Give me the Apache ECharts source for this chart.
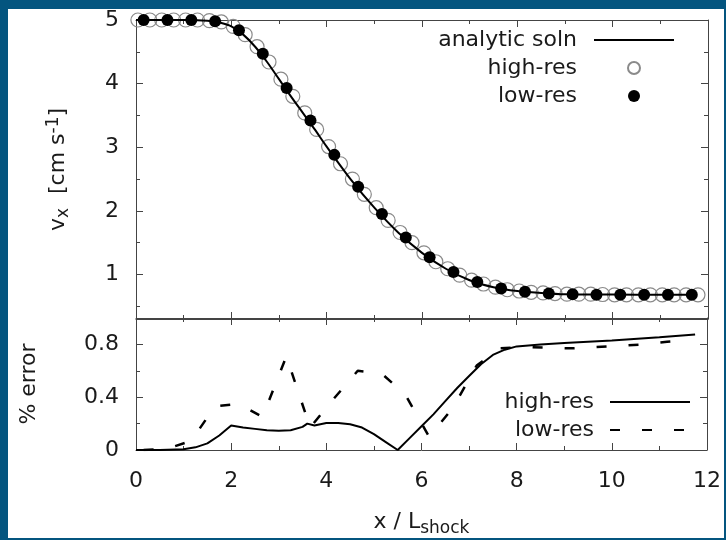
<!DOCTYPE html>
<html>
<head>
<meta charset="utf-8">
<script src="https://cdn.jsdelivr.net/npm/echarts@6/dist/echarts.min.js"></script>
<style>
html,body{margin:0;padding:0;width:726px;height:540px;background:#04557f;overflow:hidden;}
#chart{position:absolute;left:8px;top:9px;width:716px;height:529px;background:#ffffff;overflow:hidden;}
</style>
</head>
<body>
<div id="chart"></div>
<script>
// ---- data ----
var analyticX = [0, 0.5, 1.0, 1.5, 1.75, 2.0, 2.25, 2.5, 2.75, 3.0, 3.25, 3.5, 3.75, 4.0, 4.5, 5.0, 5.5, 6.0, 6.5, 7.0, 7.5, 8.0, 8.5, 9.0, 10.0, 11.0, 11.75];
var analyticY = [5.0, 5.0, 5.0, 4.99, 4.96, 4.90, 4.77, 4.58, 4.34, 4.07, 3.80, 3.54, 3.28, 3.01, 2.50, 2.05, 1.66, 1.34, 1.09, 0.91, 0.80, 0.74, 0.71, 0.69, 0.685, 0.68, 0.68];

var highResX = [0.04,0.29,0.54,0.79,1.04,1.29,1.54,1.79,2.04,2.29,2.54,2.79,3.04,3.29,3.54,3.79,4.04,4.29,4.54,4.79,5.04,5.29,5.54,5.79,6.04,6.29,6.54,6.79,7.04,7.29,7.54,7.79,8.04,8.29,8.54,8.79,9.04,9.29,9.54,9.79,10.04,10.29,10.54,10.79,11.04,11.29,11.54,11.79];
var highResY = [5.0,5.0,5.0,5.0,5.0,5.0,4.99,4.97,4.90,4.77,4.58,4.34,4.07,3.80,3.54,3.28,3.01,2.74,2.50,2.26,2.05,1.85,1.66,1.50,1.34,1.20,1.09,0.99,0.91,0.85,0.80,0.76,0.74,0.72,0.71,0.70,0.69,0.69,0.69,0.685,0.68,0.68,0.68,0.68,0.68,0.68,0.68,0.68];

var lowResX = [0.16,0.66,1.16,1.66,2.16,2.66,3.16,3.66,4.16,4.66,5.16,5.66,6.16,6.66,7.16,7.66,8.16,8.66,9.16,9.66,10.16,10.66,11.16,11.66];
var lowResY = [5.0,5.0,5.0,4.98,4.84,4.47,3.93,3.42,2.88,2.38,1.95,1.58,1.27,1.04,0.88,0.78,0.73,0.70,0.69,0.68,0.68,0.68,0.68,0.68];

var errHighX = [0,0.5,1.0,1.25,1.5,1.75,2.0,2.25,2.5,2.75,3.0,3.25,3.5,3.6,3.75,4.0,4.25,4.5,4.75,5.0,5.25,5.5,5.75,6.0,6.25,6.5,6.75,7.0,7.25,7.5,7.75,8.0,8.5,9.0,10.0,11.0,11.75];
var errHighY = [0,0,0.005,0.02,0.05,0.11,0.185,0.17,0.16,0.15,0.145,0.15,0.175,0.2,0.185,0.205,0.205,0.195,0.17,0.12,0.06,0.0,0.09,0.18,0.27,0.37,0.47,0.56,0.65,0.72,0.76,0.785,0.80,0.81,0.83,0.855,0.875];

var errLowX = lowResX;
var errLowY = [0.0,0.01,0.07,0.33,0.35,0.25,0.71,0.17,0.39,0.60,0.58,0.42,0.10,0.32,0.64,0.77,0.78,0.775,0.77,0.78,0.79,0.80,0.82,0.835];

var xTicks = [0,2,4,6,8,10,12];
var vTicksMajor = [1,2,3,4,5];
var vTicksMinor = [0.5,1.5,2.5,3.5,4.5];
var eTicksMajor = [0,0.4,0.8];
var eTicksMinor = [0.2,0.6,1.0];

function pairs(xs, ys){ return xs.map(function(x,i){return [x, ys[i]];}); }

var FONT = 'DejaVu Sans';
var FS = 22;
var TXT = '#1a1a1a';
var AX = '#444';

var chart = echarts.init(document.getElementById('chart'), null, {renderer:'canvas'});

function xAx(grid, pos, labels, name){
  var o = {
    type:'value', gridIndex:grid, position:pos, min:0, max:12, interval:2,
    axisLine:{show:true, onZero:false, lineStyle:{color:AX, width:1}},
    axisTick:{show:true, inside:true, length:7, lineStyle:{color:AX}},
    minorTick:{show:true, splitNumber:2, length:4, lineStyle:{color:AX}},
    splitLine:{show:false}, minorSplitLine:{show:false},
    axisLabel:{show:labels, margin:20, fontSize:FS, fontFamily:FONT, color:TXT}
  };
  if (name) {
    o.name = name; o.nameLocation='middle'; o.nameGap=58;
    o.nameTextStyle = {fontSize:FS, fontFamily:FONT, color:TXT,
      rich:{sub:{fontSize:17, fontFamily:FONT, color:TXT, padding:[12,0,0,0]}}};
  }
  return o;
}
function yAx(grid, pos, min, max, ticks, len, labels, line, fmt){
  return {
    type:'value', gridIndex:grid, position:pos, min:min, max:max,
    axisLine:{show:line, onZero:false, lineStyle:{color:AX, width:1}},
    axisTick:{show:true, inside:true, length:len, customValues:ticks, lineStyle:{color:AX}},
    splitLine:{show:false},
    axisLabel:{show:labels, customValues:ticks, margin:17, fontSize:FS, fontFamily:FONT, color:TXT, formatter:fmt}
  };
}

var yUpperMain = yAx(0,'left',0.3,5,vTicksMajor,7,true,true,function(v){return String(v);});
yUpperMain.name = 'v{sub|x}  [cm s{sup|-1}]';
yUpperMain.nameLocation = 'middle';
yUpperMain.nameGap = 64;
yUpperMain.nameTextStyle = {fontSize:FS, fontFamily:FONT, color:TXT,
  rich:{sub:{fontSize:17, fontFamily:FONT, color:TXT, padding:[10,0,0,0]},
        sup:{fontSize:17, fontFamily:FONT, color:TXT, padding:[0,0,10,0]}}};

var yLowerMain = yAx(1,'left',0,1,eTicksMajor,7,true,true,function(v){return String(v);});
yLowerMain.name = '% error';
yLowerMain.nameLocation = 'middle';
yLowerMain.nameGap = 96;
yLowerMain.nameTextStyle = {fontSize:FS, fontFamily:FONT, color:TXT};

var option = {
  animation:false,
  backgroundColor:'#ffffff',
  textStyle:{fontFamily:FONT},
  grid:[
    {left:128, top:10, width:572, height:300},
    {left:128, top:309, width:572, height:137}
  ],
  xAxis:[
    xAx(0,'bottom',false),
    xAx(0,'top',false),
    xAx(1,'bottom',true,'x / L{sub|shock}'),
    xAx(1,'top',false)
  ],
  yAxis:[
    yUpperMain,
    yAx(0,'left',0.3,5,vTicksMinor,4,false,false),
    yAx(0,'right',0.3,5,vTicksMajor,7,false,true),
    yAx(0,'right',0.3,5,vTicksMinor,4,false,false),
    yLowerMain,
    yAx(1,'left',0,1,eTicksMinor,4,false,false),
    yAx(1,'right',0,1,eTicksMajor,7,false,true),
    yAx(1,'right',0,1,eTicksMinor,4,false,false)
  ],
  legend:[
    {
      data:[{name:'analytic soln', itemStyle:{opacity:0}},'high-res','low-res'],
      orient:'vertical', align:'right', right:44, top:15,
      itemWidth:80, itemHeight:12, itemGap:6,
      textStyle:{fontSize:FS, fontFamily:FONT, color:TXT, padding:[0,12,0,0]},
      selectedMode:false
    },
    {
      data:[{name:'high-res ', itemStyle:{opacity:0}},{name:'low-res ', itemStyle:{opacity:0}}],
      orient:'vertical', align:'right', right:28, top:377,
      itemWidth:80, itemHeight:12, itemGap:6,
      formatter:function(n){return n.trim();},
      textStyle:{fontSize:FS, fontFamily:FONT, color:TXT, padding:[0,11,0,0]},
      selectedMode:false
    }
  ],
  series:[
    {
      name:'high-res', type:'scatter', xAxisIndex:0, yAxisIndex:0,
      data:pairs(highResX, highResY), symbol:'circle', symbolSize:14,
      itemStyle:{color:'rgba(255,255,255,0)', borderColor:'#8a8a8a', borderWidth:1.2, opacity:1},
      z:2
    },
    {
      name:'analytic soln', type:'line', xAxisIndex:0, yAxisIndex:0,
      data:pairs(analyticX, analyticY), smooth:0.3, symbol:'none',
      lineStyle:{color:'#000', width:2}, itemStyle:{color:'#000'}, z:3
    },
    {
      name:'low-res', type:'scatter', xAxisIndex:0, yAxisIndex:0,
      data:pairs(lowResX, lowResY), symbol:'circle', symbolSize:12,
      itemStyle:{color:'#000', opacity:1}, z:4
    },
    {
      name:'high-res ', type:'line', xAxisIndex:2, yAxisIndex:4,
      data:pairs(errHighX, errHighY), symbol:'none', smooth:false,
      lineStyle:{color:'#000', width:2}, itemStyle:{color:'#000'}, z:3
    },
    {
      name:'low-res ', type:'line', xAxisIndex:2, yAxisIndex:4,
      data:pairs(errLowX, errLowY), symbol:'none', smooth:false,
      lineStyle:{color:'#000', width:2.5, type:[10,22]}, itemStyle:{color:'#000'}, z:3
    }
  ]
};
chart.setOption(option);
</script>
</body>
</html>
